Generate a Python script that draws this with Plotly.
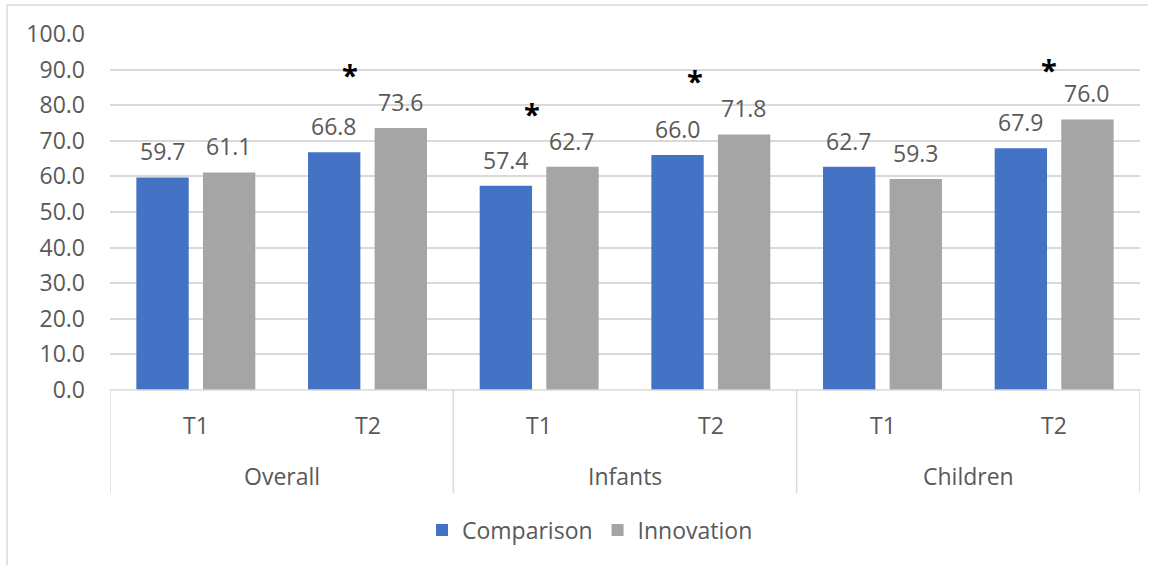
import plotly.graph_objects as go

groups = ["Overall", "Infants", "Children"]
times = ["T1", "T2"]
comparison = [59.7, 66.8, 57.4, 66.0, 62.7, 67.9]
innovation = [61.1, 73.6, 62.7, 71.8, 59.3, 76.0]
star_idx = [1, 2, 3, 5]
star_y = [90.7, 79.5, 88.8, 91.9]
star_dx = [-0.10, -0.04, -0.09, -0.03]

FONT = "Open Sans"
GREY = "#595959"
GRID = "#d9d9d9"
FS = 23

n = len(comparison)
xs = list(range(n))

fig = go.Figure()
fig.add_trace(go.Bar(name="Comparison", x=xs, y=comparison, marker_color="#4472C4",
                     marker_line_width=0))
fig.add_trace(go.Bar(name="Innovation", x=xs, y=innovation, marker_color="#A5A5A5",
                     marker_line_width=0))

ann = []
slot = (1 - 0.224) / 4
for vals, off in ((comparison, -slot), (innovation, slot)):
    for i, v in enumerate(vals):
        ann.append(dict(x=i + off, y=v, xref="x", yref="y", text=f"{v:.1f}",
                        showarrow=False, yanchor="middle", yshift=26,
                        font=dict(family=FONT, size=FS, color=GREY)))
for i, y, dx in zip(star_idx, star_y, star_dx):
    ann.append(dict(x=i + dx, y=y, xref="x", yref="y", text="<b>*</b>", showarrow=False,
                    yanchor="middle", yshift=-7,
                    font=dict(family=FONT, size=29, color="black")))

# category labels
H = 356.0
W = 1030.0
for i in range(n):
    ann.append(dict(x=i, y=(390 - 425) / H, xref="x", yref="paper", text=times[i % 2],
                    showarrow=False, yanchor="middle",
                    font=dict(family=FONT, size=FS, color=GREY)))
for g, name in enumerate(groups):
    ann.append(dict(x=2 * g + 0.5, y=(390 - 476) / H, xref="x", yref="paper", text=name,
                    showarrow=False, yanchor="middle",
                    font=dict(family=FONT, size=FS, color=GREY)))

shapes = []
for b in range(0, n + 1, 2):
    shapes.append(dict(type="line", xref="x", yref="paper", x0=b - 0.5, x1=b - 0.5,
                       y0=0, y1=(390 - 493) / H, line=dict(color=GRID, width=1.5)))
# x axis baseline
shapes.append(dict(type="line", xref="paper", yref="paper", x0=0, x1=1, y0=0, y1=0,
                   line=dict(color=GRID, width=1.5)))
# chart border (top and left visible)
shapes.append(dict(type="line", xref="paper", yref="paper", x0=(7 - 110) / W, x1=(1148 - 110) / W,
                   y0=(390 - 5) / H, y1=(390 - 5) / H, line=dict(color=GRID, width=1.5)))
shapes.append(dict(type="line", xref="paper", yref="paper", x0=(7 - 110) / W, x1=(7 - 110) / W,
                   y0=(390 - 5) / H, y1=(390 - 570) / H, line=dict(color=GRID, width=1.5)))

fig.update_layout(
    width=1156, height=565,
    margin=dict(l=110, r=16, t=34, b=175),
    paper_bgcolor="white", plot_bgcolor="white",
    barmode="group", bargap=0.224, bargroupgap=0.214,
    font=dict(family=FONT, size=FS, color=GREY),
    xaxis=dict(range=[-0.5, n - 0.5], showticklabels=False, showgrid=False,
               zeroline=False, showline=False),
    yaxis=dict(range=[0, 100], dtick=10, tickformat=".1f", showgrid=True,
               gridcolor=GRID, gridwidth=1.5, zeroline=False, showline=False,
               ticklabelstandoff=24, tickfont=dict(family=FONT, size=FS, color=GREY)),
    legend=dict(orientation="h", x=(590 - 110) / W, xanchor="center",
                y=(390 - 530) / H, yanchor="middle", itemwidth=30,
                font=dict(family=FONT, size=FS, color=GREY), itemclick=False),
    annotations=ann, shapes=shapes,
)

fig.write_html("out.html")
